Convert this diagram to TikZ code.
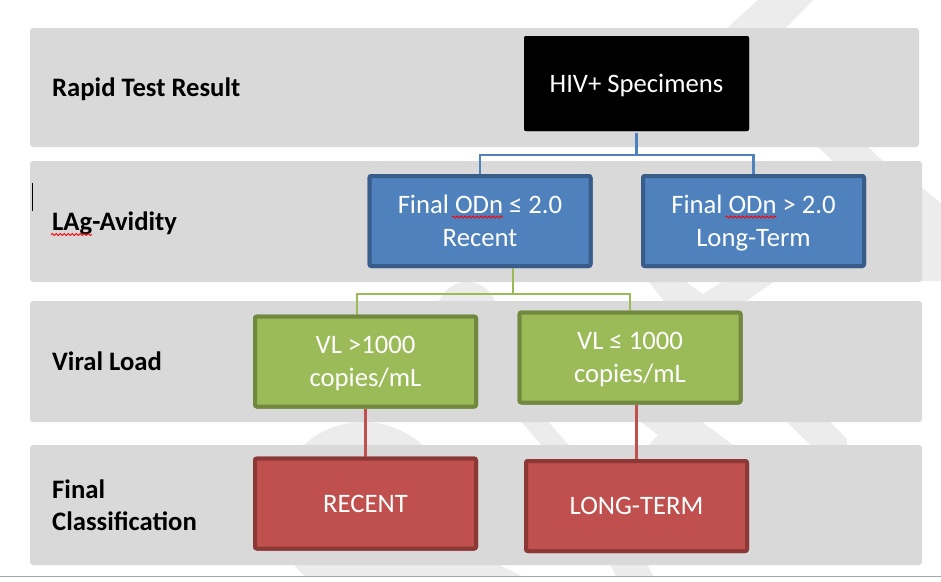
\documentclass[tikz,border=0pt]{standalone}
\usepackage{fontspec}
\setmainfont{Carlito}
\usetikzlibrary{decorations.pathmorphing}
\definecolor{fondogris}{HTML}{D9D9D9}
\definecolor{marca}{HTML}{ECECEC}
\definecolor{azul}{HTML}{4F81BD}
\definecolor{azulborde}{HTML}{385D8A}
\definecolor{verde}{HTML}{9BBB59}
\definecolor{verdeborde}{HTML}{71893F}
\definecolor{rojo}{HTML}{C0504D}
\definecolor{rojoborde}{HTML}{8C3836}
\definecolor{linea}{HTML}{A6A6A6}
\tikzset{
    fila/.style={fill=fondogris, rounded corners=3pt},
    etiqueta/.style={anchor=west, align=left, inner sep=0pt, text depth=0pt, font=\bfseries\fontsize{26.67}{32}\selectfont},
    caja/.style={minimum width=221pt, minimum height=90pt, line width=4pt, rounded corners=2pt, text=white, align=center, inner sep=0pt, text depth=0pt, font=\fontsize{26.67}{33}\selectfont},
    cajanegra/.style={caja, fill=black, minimum width=225pt, minimum height=95pt},
    cajaazul/.style={caja, fill=azul, draw=azulborde},
    cajaverde/.style={caja, fill=verde, draw=verdeborde},
    cajaroja/.style={caja, fill=rojo, draw=rojoborde},
    conector/.style={line width=2.6pt},
    subrayado/.style={draw=red, line width=0.9pt, decorate, decoration={snake, amplitude=1pt, segment length=4pt}}
}
\begin{document}
\begin{tikzpicture}[x=1pt,y=-1pt]
        \useasboundingbox[fill=white] (0,0) rectangle (941,581);
        %Marca de agua
        \begin{scope}
            \clip (0,0) rectangle (941,576);
            \fill[marca] (760,-2) -- (815,-2) -- (783,31) -- (724,31) -- cycle;
            \fill[marca] (815,144) -- (865,144) -- (886,164) -- (836,164) -- cycle;
            \fill[marca] (916,183) -- (941,203) -- (941,281) -- (916,281) -- cycle;
            \fill[marca] (647,279) -- (682,279) -- (703,294) -- (727,279) -- (778,279) -- (742,304) -- (666,304) -- cycle;
            \fill[marca] (467,312) circle (30);
            \fill[marca] (363,510) circle (88);
            \fill[marca] (519,419) -- (546,419) -- (571,448) -- (544,448) -- cycle;
            \fill[marca] (637,419) -- (698,419) -- (737,448) -- (646,448) -- (658,435) -- cycle;
            \fill[marca] (784,419) -- (827,419) -- (847,439) -- (847,448) -- (813,448) -- cycle;
            \fill[marca] (333,562) -- (378,562) -- (392,580) -- (347,580) -- cycle;
            \fill[marca] (430,562) -- (494,562) -- (529,580) -- (416,580) -- cycle;
            \fill[marca] (609,562) -- (646,562) -- (655,580) -- (618,580) -- cycle;
        \end{scope}
        %Filas
        \fill[fila] (30,28) rectangle (919,147);
        \fill[fila] (30,161) rectangle (922,282);
        \fill[fila] (30,301) rectangle (922,422);
        \fill[fila] (30,445) rectangle (922,565);
        \draw[linea, line width=1.5pt] (0,576.5) -- (941,576.5);
        \draw[line width=1pt] (32.5,183) -- (32.5,211);
        %Etiquetas
        \node[etiqueta] (prueba) at (52,87.5) {Rapid Test Result};
        \node[etiqueta] (avidez) at (52,221.5) {LAg-Avidity};
        \node[etiqueta] (carga) at (52,361.5) {Viral Load};
        \node[etiqueta] (final) at (52,505) {Final\\Classification};
        \draw[subrayado] (51,234.5) -- (92,234.5);
        %Cajas
        \node[cajanegra] (hiv) at (636.5,83.5) {};
        \node[cajaazul] (odnbajo) at (480,221) {};
        \node[cajaazul] (odnalto) at (753.5,221) {};
        \node[cajaverde] (cvalta) at (365.5,361.5) {};
        \node[cajaverde] (cvbaja) at (630,357.5) {};
        \node[cajaroja] (reciente) at (365.5,503.5) {};
        \node[cajaroja] (largo) at (636.5,506) {};
        %Conectores
        \draw[azul, conector] (hiv.south) -- ++(0,22) -| (odnbajo.north);
        \draw[azul, conector] (hiv.south) -- ++(0,22) -| (odnalto.north);
        \draw[verde, conector] ([xshift=33pt]odnbajo.south) -- ++(0,26) -| ([xshift=-8.5pt]cvalta.north);
        \draw[verde, conector] ([xshift=33pt]odnbajo.south) -- ++(0,26) -| (cvbaja.north);
        \draw[rojo, conector] (cvalta.south) -- (reciente.north);
        \draw[rojo, conector] (largo.north) -- (largo.north |- cvbaja.south);
        %Textos
        \node[cajanegra] at (hiv) {HIV+ Specimens};
        \node[cajaazul] at (odnbajo) {Final ODn ≤ 2.0\\Recent};
        \node[cajaazul] at (odnalto) {Final ODn > 2.0\\Long-Term};
        \node[cajaverde] at (cvalta) {VL >1000\\copies/mL};
        \node[cajaverde] at (cvbaja) {VL ≤ 1000\\copies/mL};
        \node[cajaroja] at (reciente) {RECENT};
        \node[cajaroja] at (largo) {LONG-TERM};
        \foreach \caja in {odnbajo,odnalto}
        \draw[subrayado] ([shift={(-28,-4)}]\caja.center) -- ([shift={(23,-4)}]\caja.center);
\end{tikzpicture}
\end{document}
